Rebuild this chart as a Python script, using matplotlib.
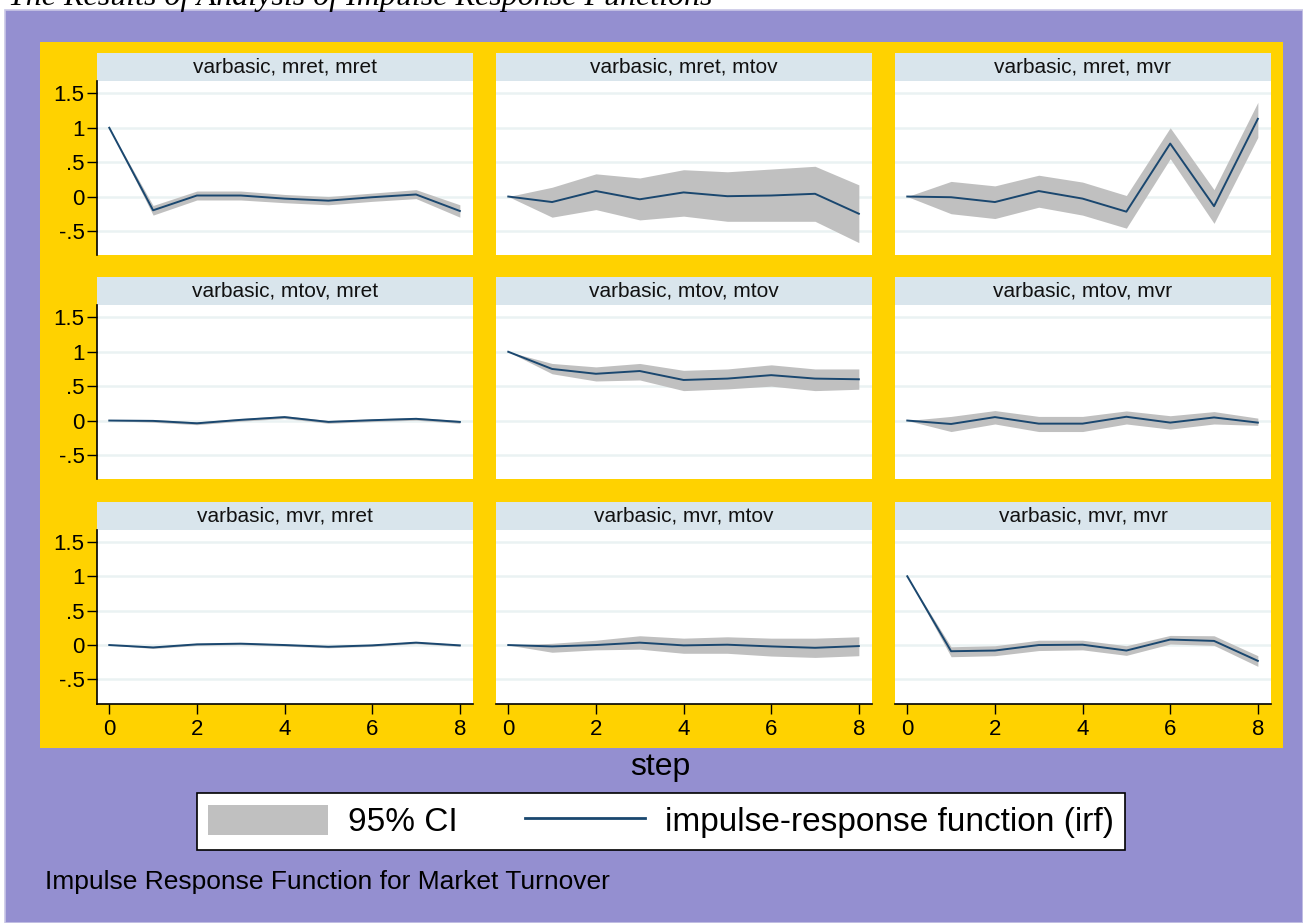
import numpy as np
import matplotlib
matplotlib.use("Agg")
import matplotlib.pyplot as plt
from matplotlib.patches import Rectangle, Patch
from matplotlib.lines import Line2D

plt.rcParams['font.family'] = ['Liberation Sans', 'DejaVu Sans']

# Data (step 0..8)
steps = [0, 1, 2, 3, 4, 5, 6, 7, 8]
variables = ["mret", "mtov", "mvr"]

# impulse mret
irf_mret_mret = [1.0, -0.20, 0.015, 0.015, -0.03, -0.06, -0.01, 0.03, -0.21]
lo_mret_mret = [1.0, -0.27, -0.05, -0.05, -0.09, -0.12, -0.07, -0.03, -0.30]
hi_mret_mret = [1.0, -0.13, 0.08, 0.08, 0.03, 0.00, 0.05, 0.10, -0.12]

irf_mret_mtov = [0.0, -0.08, 0.08, -0.04, 0.06, 0.005, 0.015, 0.04, -0.25]
lo_mret_mtov = [0.0, -0.30, -0.19, -0.34, -0.285, -0.36, -0.36, -0.36, -0.67]
hi_mret_mtov = [0.0, 0.135, 0.33, 0.27, 0.39, 0.36, 0.40, 0.44, 0.17]

irf_mret_mvr = [0.0, -0.01, -0.08, 0.08, -0.03, -0.22, 0.77, -0.14, 1.13]
lo_mret_mvr = [0.0, -0.25, -0.32, -0.155, -0.27, -0.46, 0.55, -0.39, 0.86]
hi_mret_mvr = [0.0, 0.22, 0.155, 0.31, 0.21, 0.015, 1.0, 0.10, 1.37]

# impulse mtov
irf_mtov_mret = [0.0, -0.005, -0.04, 0.01, 0.05, -0.02, 0.005, 0.025, -0.02]
lo_mtov_mret = [0.0, -0.025, -0.06, -0.01, 0.03, -0.04, -0.015, 0.005, -0.04]
hi_mtov_mret = [0.0, 0.015, -0.02, 0.03, 0.07, 0.0, 0.025, 0.045, 0.0]

irf_mtov_mtov = [1.0, 0.75, 0.68, 0.72, 0.59, 0.61, 0.66, 0.61, 0.60]
lo_mtov_mtov = [1.0, 0.68, 0.575, 0.59, 0.435, 0.46, 0.50, 0.435, 0.455]
hi_mtov_mtov = [1.0, 0.83, 0.78, 0.83, 0.73, 0.75, 0.81, 0.75, 0.75]

irf_mtov_mvr = [0.0, -0.05, 0.05, -0.045, -0.045, 0.055, -0.03, 0.045, -0.03]
lo_mtov_mvr = [0.0, -0.16, -0.05, -0.16, -0.16, -0.05, -0.125, -0.05, -0.07]
hi_mtov_mvr = [0.0, 0.06, 0.145, 0.06, 0.06, 0.14, 0.07, 0.13, 0.035]

# impulse mvr
irf_mvr_mret = [0.0, -0.035, 0.01, 0.02, 0.0, -0.025, -0.005, 0.035, -0.005]
lo_mvr_mret = [0.0, -0.05, -0.005, 0.005, -0.015, -0.04, -0.02, 0.02, -0.02]
hi_mvr_mret = [0.0, -0.02, 0.025, 0.035, 0.015, -0.01, 0.01, 0.05, 0.01]

irf_mvr_mtov = [0.0, -0.02, 0.0, 0.035, -0.005, 0.005, -0.02, -0.04, -0.015]
lo_mvr_mtov = [0.0, -0.105, -0.07, -0.06, -0.12, -0.12, -0.16, -0.18, -0.155]
hi_mvr_mtov = [0.0, 0.025, 0.07, 0.135, 0.10, 0.12, 0.10, 0.10, 0.12]

irf_mvr_mvr = [1.0, -0.09, -0.08, 0.0, 0.005, -0.08, 0.08, 0.06, -0.23]
lo_mvr_mvr = [1.0, -0.17, -0.155, -0.08, -0.07, -0.15, 0.015, -0.005, -0.31]
hi_mvr_mvr = [1.0, -0.025, -0.01, 0.07, 0.07, -0.01, 0.14, 0.135, -0.155]

panels = {
    ("mret", "mret"): (irf_mret_mret, lo_mret_mret, hi_mret_mret),
    ("mret", "mtov"): (irf_mret_mtov, lo_mret_mtov, hi_mret_mtov),
    ("mret", "mvr"): (irf_mret_mvr, lo_mret_mvr, hi_mret_mvr),
    ("mtov", "mret"): (irf_mtov_mret, lo_mtov_mret, hi_mtov_mret),
    ("mtov", "mtov"): (irf_mtov_mtov, lo_mtov_mtov, hi_mtov_mtov),
    ("mtov", "mvr"): (irf_mtov_mvr, lo_mtov_mvr, hi_mtov_mvr),
    ("mvr", "mret"): (irf_mvr_mret, lo_mvr_mret, hi_mvr_mret),
    ("mvr", "mtov"): (irf_mvr_mtov, lo_mvr_mtov, hi_mvr_mtov),
    ("mvr", "mvr"): (irf_mvr_mvr, lo_mvr_mvr, hi_mvr_mvr),
}

yticks = [-0.5, 0, 0.5, 1, 1.5]
ytick_labels = ["-.5", "0", ".5", "1", "1.5"]
xticks = [0, 2, 4, 6, 8]

purple = "#948FD0"
yellow = "#FFD200"
strip_col = "#D9E5EC"
line_col = "#1A476F"
band_col = "#C0C0C0"
grid_col = "#EAF2F3"

W, H = 1303, 923
fig = plt.figure(figsize=(W / 100, H / 100), dpi=100)
fig.patch.set_facecolor("white")


def box(x0, y0, x1, y1):
    # pixel box (top-left origin) -> figure fraction [left, bottom, w, h]
    return [x0 / W, 1 - y1 / H, (x1 - x0) / W, (y1 - y0) / H]


# backgrounds (behind the axes)
fig.patches.append(Rectangle((5 / W, 0), 1 - 5 / W, 1 - 10 / H, transform=fig.transFigure,
                             facecolor=purple, edgecolor="#C9C7E6", lw=1.2, zorder=-2))
fig.patches.append(Rectangle((40 / W, 1 - 748 / H), (1283 - 40) / W, (748 - 42) / H,
                             transform=fig.transFigure, facecolor=yellow, edgecolor="none", zorder=-1))

# top title (cut off by the page edge in the original)
fig.text(8 / W, 1 - 5 / H, "The Results of Analysis of Impulse Response Functions",
         family="Liberation Serif", style="italic", fontsize=23, va="baseline", ha="left")

col_x = [(97, 473), (496, 872), (895, 1271)]
row_top = [53, 277, 501.5]
strip_h = 28
plot_h = 174

for i, imp in enumerate(variables):
    for j, resp in enumerate(variables):
        x0, x1 = col_x[j]
        st = row_top[i]
        # strip
        sax = fig.add_axes(box(x0, st, x1, st + strip_h))
        sax.set_facecolor(strip_col)
        sax.set_xticks([])
        sax.set_yticks([])
        for s in sax.spines.values():
            s.set_visible(False)
        sax.text(0.5, 0.5, "varbasic, %s, %s" % (imp, resp), ha="center", va="center",
                 fontsize=15, color="#111111", transform=sax.transAxes)

        ax = fig.add_axes(box(x0, st + strip_h, x1, st + strip_h + plot_h))
        ax.set_facecolor("white")
        irf, lo, hi = panels[(imp, resp)]
        ax.fill_between(steps, lo, hi, color=band_col, lw=0, zorder=2)
        ax.plot(steps, irf, color=line_col, lw=1.4, zorder=3)
        ax.set_xlim(-0.28, 8.3)
        ax.set_ylim(-0.85, 1.68)
        ax.set_yticks(yticks)
        ax.set_xticks(xticks)
        for yv in yticks:
            ax.axhline(yv, color=grid_col, lw=1.8, zorder=1)
        for s in ax.spines.values():
            s.set_visible(False)
        if j == 0:
            ax.spines["left"].set_visible(True)
            ax.spines["left"].set_color("black")
            ax.spines["left"].set_linewidth(1.2)
            ax.set_yticklabels(ytick_labels)
            ax.tick_params(axis="y", length=7, width=1, labelsize=16, pad=2)
        else:
            ax.tick_params(axis="y", left=False, labelleft=False)
        if i == 2:
            ax.spines["bottom"].set_visible(True)
            ax.spines["bottom"].set_color("black")
            ax.spines["bottom"].set_linewidth(1.2)
            ax.tick_params(axis="x", length=7, width=1, labelsize=16, pad=4)
        else:
            ax.tick_params(axis="x", bottom=False, labelbottom=False)

fig.text(660 / W, 1 - 767 / H, "step", ha="center", va="center", fontsize=23)

handles = [Patch(facecolor=band_col, edgecolor="none"),
           Line2D([0], [0], color=line_col, lw=2)]
leg = fig.legend(handles, ["95% CI", "impulse-response function (irf)"], ncol=2,
                 loc="center", bbox_to_anchor=(661 / W, 1 - 821.5 / H), fontsize=24,
                 frameon=True, fancybox=False, edgecolor="black", framealpha=1,
                 handlelength=3.6, handleheight=1.0, handletextpad=0.6,
                 columnspacing=2.0, borderpad=0.35)
leg.get_frame().set_linewidth(1.2)

fig.text(45 / W, 1 - 882 / H, "Impulse Response Function for Market Turnover",
         ha="left", va="center", fontsize=19)

fig.savefig("out.png", dpi=100)
